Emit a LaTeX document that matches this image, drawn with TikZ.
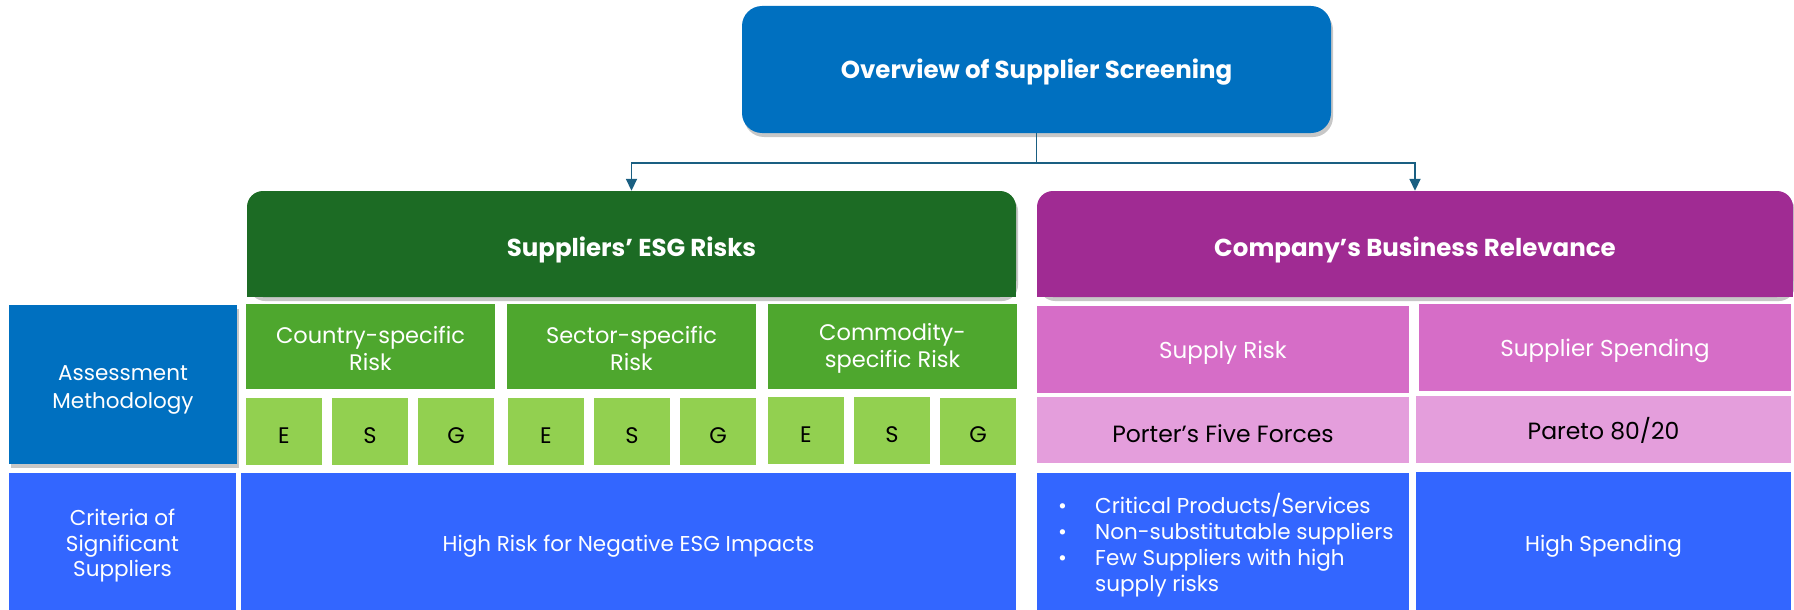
\documentclass[tikz,border=0pt]{standalone}
\usepackage{fontspec}
\setmainfont{Poppins}
\usetikzlibrary{arrows.meta,shadows}
\definecolor{topblue}{HTML}{0070C0}
\definecolor{esgdark}{HTML}{1C6B24}
\definecolor{relpurple}{HTML}{A02B93}
\definecolor{subgreen}{HTML}{4EA72E}
\definecolor{ltgreen}{HTML}{92D050}
\definecolor{subpink}{HTML}{D66DC7}
\definecolor{ltpink}{HTML}{E49EDC}
\definecolor{critblue}{HTML}{3366FF}
\definecolor{arrowc}{HTML}{1A5F82}
\newcommand{\fs}[2]{\fontsize{#1}{#2}\selectfont}
\newcommand{\up}[1]{\rule{0pt}{#1}}
\begin{document}
\begin{tikzpicture}[x=1pt,y=-1pt,
  cell/.style={inner sep=2pt, align=center, text=white, font=\fs{21.5}{27},
    execute at begin node={\rule{0pt}{1.05em}}},
  lower/.style={execute at begin node={\rule{0pt}{#1}}},
  dark/.style={cell, text=black},
  hdr/.style={cell, font=\fs{24.5}{29}\bfseries},
  sz/.style 2 args={minimum width=#1pt, minimum height=#2pt},
  shd/.style={drop shadow={shadow xshift=2pt, shadow yshift=-4pt, opacity=0.22, fill=black}},
  conn/.style={draw=arrowc, line width=1.8pt, -{Triangle[width=11pt,length=12pt]}}]
\useasboundingbox (0,0) rectangle (1794,610);

% top box
\node[hdr, sz={589}{127}, fill=topblue, rounded corners=20pt, shd] (top) at (1036.5,69.5) {Overview of Supplier Screening};

% header boxes (rounded top corners)
\fill[esgdark, rounded corners=16pt, shd] (247,191) rectangle (1016,297);
\fill[esgdark] (247,240) rectangle (1016,297);
\node[hdr, lower=1.3em, sz={769}{106}] (esg) at (631.5,244) {Suppliers’ ESG Risks};

\fill[relpurple, rounded corners=16pt, shd] (1037,191) rectangle (1793,297);
\fill[relpurple] (1037,240) rectangle (1793,297);
\node[hdr, lower=1.3em, sz={756}{106}] (rel) at (1415,244) {Company’s Business Relevance};

% connectors
\coordinate (split) at (1036.5,163);
\draw[conn] (top.south) -- (split) -| (esg.north);
\draw[conn] (top.south) -- (split) -| (rel.north);

% row labels
\node[cell, sz={228}{159}, fill=topblue, shd, font=\fs{21.5}{28.5}] (assess) at (123,384.5) {\up{26pt}Assessment\\Methodology};
\node[cell, sz={227}{137}, fill=critblue, font=\fs{21.5}{25.5}] (crit) at (122.5,541.5) {\up{25pt}Criteria of\\Significant\\Suppliers};

% green sub headers
\tikzset{subg/.style={cell, sz={249}{85}, fill=subgreen, font=\fs{22.5}{27.5}}}
\node[subg] (country) at (370.5,346.5) {\up{21pt}Country-specific\\Risk};
\node[subg] (sector) at (631.5,346.5) {\up{21pt}Sector-specific\\Risk};
\node[subg] (commod) at (892.5,346.5) {\up{21pt}Commodity-\\specific Risk};

% ESG cells
\tikzset{esgc/.style={dark, sz={76}{67}, fill=ltgreen, font=\fs{22.5}{27}}}
\node[esgc] (e1) at (284,431.5) {E};
\node[esgc] (s1) at (370,431.5) {S};
\node[esgc] (g1) at (456,431.5) {G};
\node[esgc] (e2) at (546,431.5) {E};
\node[esgc] (s2) at (632,431.5) {S};
\node[esgc] (g2) at (718,431.5) {G};
\node[esgc] (e3) at (806,430.5) {E};
\node[esgc] (s3) at (892,430.5) {S};
\node[esgc] (g3) at (978,431) {G};

\node[cell, lower=1.2em, sz={775}{137}, fill=critblue] (highrisk) at (628.5,541.5) {High Risk for Negative ESG Impacts};

% pink side
\node[cell, sz={372}{87}, fill=subpink, font=\fs{23}{28}] (supply) at (1223,349.5) {Supply Risk};
\node[cell, sz={372}{87}, fill=subpink, font=\fs{23}{28}] (spend) at (1605,347.5) {Supplier Spending};
\node[dark, sz={372}{66}, fill=ltpink, font=\fs{23.5}{28}] (porter) at (1223,430) {Porter’s Five Forces};
\node[dark, sz={375}{67}, fill=ltpink, font=\fs{23.5}{28}] (pareto) at (1603.5,429.5) {Pareto 80/20};
\node[cell, sz={372}{137}, fill=critblue] (critical) at (1223,541.5) {};
\node[cell, align=left, anchor=west, font=\fs{21.5}{26.2}] (bullets) at (1056,545) {%
\makebox[37pt][l]{\textbullet}Critical Products/Services\\
\makebox[37pt][l]{\textbullet}Non-substitutable suppliers\\
\makebox[37pt][l]{\textbullet}Few Suppliers with high\\
\hspace*{37pt}supply risks};
\node[cell, lower=1.2em, sz={375}{138}, fill=critblue] (highspend) at (1603.5,541) {High Spending};
\end{tikzpicture}
\end{document}
